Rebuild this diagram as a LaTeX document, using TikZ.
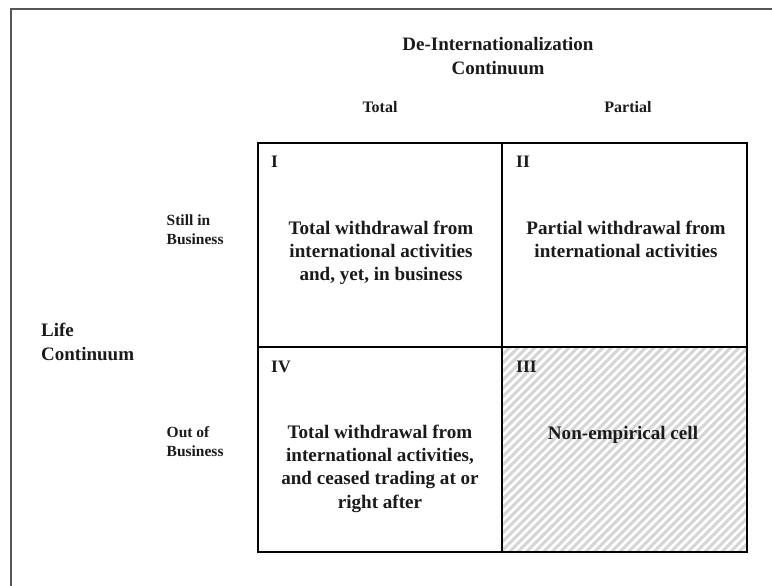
\documentclass[tikz,border=0pt]{standalone}
\usepackage{fontspec}
\setmainfont{Liberation Serif}
\definecolor{txt}{HTML}{1A1A1A}
\definecolor{hatchgray}{HTML}{D6D6D6}
\definecolor{framecol}{HTML}{555555}
\newcommand{\Lc}[1]{\begin{tabular}[t]{@{}c@{}}#1\end{tabular}}
\newcommand{\Ll}[1]{\begin{tabular}[t]{@{}l@{}}#1\end{tabular}}
\tikzset{
  bigtext/.style={font=\fontsize{19}{23.4}\selectfont\bfseries, text=txt, inner sep=0pt, anchor=base},
  celltext/.style={font=\fontsize{19.1}{23.3}\selectfont\bfseries, text=txt, inner sep=0pt, anchor=base},
  smalltext/.style={font=\fontsize{15.5}{19.3}\selectfont\bfseries, text=txt, inner sep=0pt, anchor=base west},
  coltext/.style={font=\fontsize{16}{19}\selectfont\bfseries, text=txt, inner sep=0pt, anchor=base},
  numtext/.style={font=\fontsize{17.5}{20}\selectfont\bfseries, text=txt, inner sep=0pt, anchor=base west},
  gridline/.style={draw=black, line width=2pt},
  framestyle/.style={draw=framecol, line width=1.2pt},
  hatchline/.style={draw=white, line width=2.8pt}
}
\begin{document}
\begin{tikzpicture}[x=1pt,y=-1pt]
\useasboundingbox (0,0) rectangle (772,586);
% outer frame (partial)
\coordinate (fbl) at (11,586);
\coordinate (ftl) at (11,9);
\coordinate (ftr) at (772,9);
\draw[framestyle] (fbl) -- (ftl) -- (ftr);
% grid corners
\coordinate (g11) at (258,143);
\coordinate (g21) at (502,143);
\coordinate (g31) at (747,143);
\coordinate (g12) at (258,347);
\coordinate (g22) at (502,347);
\coordinate (g32) at (747,347);
\coordinate (g13) at (258,552);
\coordinate (g23) at (502,552);
\coordinate (g33) at (747,552);
% hatched cell III
\fill[hatchgray] (g22) rectangle (g33);
\begin{scope}
  \clip (g22) rectangle (g33);
  \foreach \k in {0,...,55}
    \draw[hatchline] ({297+8.5*\k},556) -- ++(215,-215);
\end{scope}
% grid
\draw[gridline] (g11) rectangle (g33);
\draw[gridline] (g21) -- (g23);
\draw[gridline] (g12) -- (g32);
% titles
\node[bigtext] (title) at (498,50.7) {\Lc{De-Internationalization\\Continuum}};
\node[coltext] (total) at (380,113) {Total};
\node[coltext] (partial) at (628,113) {Partial};
\node[bigtext, anchor=base west] (life) at (41,336.7) {\Ll{Life\\Continuum}};
\node[smalltext] (still) at (166.5,225) {\Ll{Still in\\Business}};
\node[smalltext] (out) at (166.5,437.3) {\Ll{Out of\\Business}};
% roman numerals
\node[numtext] (nI) at (271,167.3) {I};
\node[numtext] (nII) at (516,167) {II};
\node[numtext] (nIV) at (271,372) {IV};
\node[numtext] (nIII) at (516,372) {III};
% cell texts
\node[celltext] (cI) at (381,234.3) {\Lc{Total withdrawal from\\international activities\\and, yet, in business}};
\node[celltext] (cII) at (626,234.3) {\Lc{Partial withdrawal from\\international activities}};
\node[celltext] (cIV) at (380,438.3) {\Lc{Total withdrawal from\\international activities,\\and ceased trading at or\\right after}};
\node[celltext] (cIII) at (623,439.3) {Non-empirical cell};
\end{tikzpicture}
\end{document}
